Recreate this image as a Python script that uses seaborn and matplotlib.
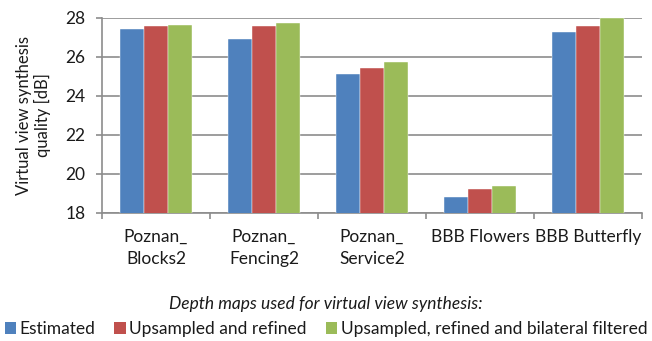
import matplotlib
matplotlib.use("Agg")
import matplotlib.pyplot as plt
import seaborn as sns
import pandas as pd
from matplotlib.patches import Patch

sequences = ["Poznan_\nBlocks2", "Poznan_\nFencing2", "Poznan_\nService2",
             "BBB Flowers", "BBB Butterfly"]
methods = ["Estimated", "Upsampled and refined",
           "Upsampled, refined and bilateral filtered"]
estimated = [27.46, 26.93, 25.14, 18.79, 27.29]
refined = [27.59, 27.60, 25.42, 19.19, 27.57]
filtered = [27.65, 27.74, 25.75, 19.37, 28.00]
colors = ["#4F81BD", "#C0504D", "#9BBB59"]

rows = []
for m, vals in zip(methods, [estimated, refined, filtered]):
    for s, v in zip(sequences, vals):
        rows.append({"Sequence": s, "Method": m, "PSNR": v})
df = pd.DataFrame(rows)

sns.set_theme(style="white")
plt.rcParams["font.family"] = ["Lato", "DejaVu Sans"]
txt = "#1a1a1a"
fs = 12.5

fig = plt.figure(figsize=(6.52, 3.41), dpi=100)
ax = fig.add_axes([102 / 652, 1 - 212.5 / 341, 540 / 652, 194.5 / 341])

sns.barplot(data=df, x="Sequence", y="PSNR", hue="Method",
            palette=colors, order=sequences, hue_order=methods,
            width=0.667, gap=0, saturation=1, errorbar=None,
            legend=False, ax=ax, zorder=3)
for p in ax.patches:
    p.set_edgecolor("white")
    p.set_linewidth(0.3)

ax.set_ylim(18, 28)
ax.set_xlim(-0.5, len(sequences) - 0.5)
ax.set_yticks(range(18, 29, 2))
ax.yaxis.grid(True, color="#8C8C8C", linewidth=1.2, zorder=0)
ax.set_axisbelow(True)

for side in ["top", "right"]:
    ax.spines[side].set_visible(False)
for side in ["left", "bottom"]:
    ax.spines[side].set_color("#8C8C8C")
    ax.spines[side].set_linewidth(1.2)

ax.set_xticks([i - 0.5 for i in range(len(sequences) + 1)], minor=True)
ax.set_xticks(range(len(sequences)))
ax.set_xticklabels(sequences, va="top", linespacing=1.45)
ax.tick_params(axis="x", which="major", length=0, pad=12, labelsize=fs,
               labelcolor=txt)
ax.tick_params(axis="x", which="minor", length=4, width=1.2, color="#8C8C8C",
               direction="out", bottom=True)
ax.tick_params(axis="y", length=4, width=1.2, color="#8C8C8C", direction="out",
               left=True, labelsize=fs, pad=8, labelcolor=txt)

ax.set_xlabel("")
ax.set_ylabel("Virtual view synthesis\nquality [dB]", fontsize=12,
              color=txt, labelpad=10, linespacing=1.2)

fig.text(0.5, 1 - 304 / 341, "Depth maps used for virtual view synthesis:",
         ha="center", va="center", fontsize=fs, style="italic", color=txt)
handles = [Patch(facecolor=c, edgecolor="none") for c in colors]
fig.legend(handles, methods, loc="center", bbox_to_anchor=(0.5, 1 - 329 / 341),
           ncol=3, frameon=False, fontsize=fs, handlelength=0.65,
           handleheight=0.65, handletextpad=0.2, columnspacing=1.1,
           borderpad=0, labelcolor=txt)

fig.savefig("out.png", dpi=100)
